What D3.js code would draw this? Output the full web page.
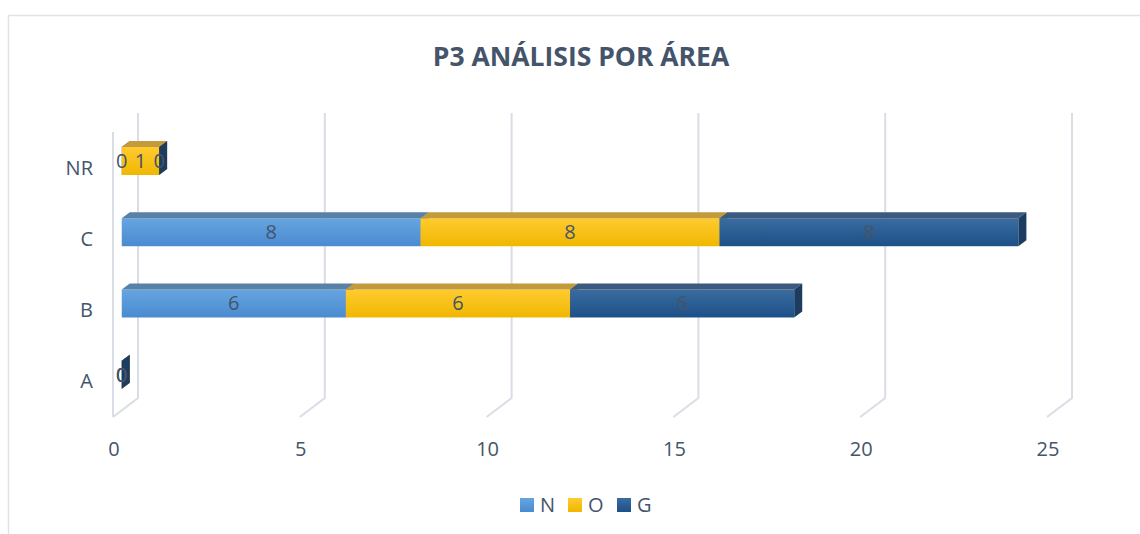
<!DOCTYPE html>
<html>
<head>
<meta charset="utf-8">
<script src="https://cdn.jsdelivr.net/npm/d3@7"></script>
<style>
  body { margin: 0; background: #fff; }
  svg { display: block; }
  text { font-family: "Open Sans", "Noto Sans", sans-serif; fill: #44546a; }
</style>
</head>
<body>
<div id="chart"></div>
<script>
const categories = ['A', 'B', 'C', 'NR'];
const seriesNames = ['N', 'O', 'G'];
const valuesN = [0, 6, 8, 0];
const valuesO = [0, 6, 8, 1];
const valuesG = [0, 6, 8, 0];
const xTicks = [0, 5, 10, 15, 20, 25];

const width = 1140, height = 534;
const depth = { dx: 25, dy: -19 };      // front -> back wall offset
const barDepth = [0.35, 0.67];          // bar sits in middle of the depth

const svg = d3.select('#chart').append('svg')
  .attr('width', width)
  .attr('height', height);

// chart border
svg.append('rect')
  .attr('x', 8.5).attr('y', 15.5)
  .attr('width', 1140).attr('height', 600)
  .attr('fill', 'none')
  .attr('stroke', '#dfe2e7')
  .attr('stroke-width', 1.5);

svg.append('text')
  .attr('x', 581).attr('y', 66)
  .attr('text-anchor', 'middle')
  .style('font-size', '26.5px')
  .style('font-weight', 700)
  .text('P3 ANÁLISIS POR ÁREA');

const x = d3.scaleLinear().domain([0, 25]).range([113, 1047]);
const y = d3.scaleBand().domain(categories).range([417, 132]).paddingInner(0).paddingOuter(0);
const barH = 28;

// gradients
const defs = svg.append('defs');
const grads = {
  N: ['#67a5e0', '#4a8ad0'],
  O: ['#ffcb30', '#f0b700'],
  G: ['#3a6c9f', '#1c5088']
};
Object.entries(grads).forEach(([k, c]) => {
  const g = defs.append('linearGradient').attr('id', 'g' + k)
    .attr('x1', 0).attr('y1', 0).attr('x2', 0).attr('y2', 1);
  g.append('stop').attr('offset', '0%').attr('stop-color', c[0]);
  g.append('stop').attr('offset', '100%').attr('stop-color', c[1]);
});
const topColor = { N: '#5981a8', O: '#c39a3c', G: '#3d5a7e' };
const sideColor = { N: '#3f6f9e', O: '#b58c1e', G: '#1c3c60' };

// gridlines (back wall + floor edge)
const grid = svg.append('g')
  .attr('fill', 'none')
  .attr('stroke', '#d9dde5')
  .attr('stroke-width', 2);
const yTop = y.range()[1], yBot = y.range()[0];
grid.selectAll('path.grid')
  .data(xTicks)
  .enter()
  .append('path')
  .attr('d', v => `M${x(v) + depth.dx},${yTop + depth.dy}V${yBot + depth.dy}L${x(v)},${yBot}`);
// side wall front edge
grid.append('path')
  .attr('d', `M${x(0)},${yTop}V${yBot}`);

// x axis labels
svg.append('g').selectAll('text')
  .data(xTicks)
  .enter()
  .append('text')
  .attr('x', d => x(d) + 1)
  .attr('y', 456)
  .attr('text-anchor', 'middle')
  .style('font-size', '20px')
  .text(d => d);

// category labels
svg.append('g').selectAll('text')
  .data(categories)
  .enter()
  .append('text')
  .attr('x', 93)
  .attr('y', d => y(d) + y.bandwidth() / 2 + 7)
  .attr('text-anchor', 'end')
  .style('font-size', '20px')
  .text(d => d);

// stacked data
const table = categories.map((c, i) => ({ cat: c, N: valuesN[i], O: valuesO[i], G: valuesG[i] }));
const stacked = d3.stack().keys(seriesNames)(table);

const f = barDepth[0], b = barDepth[1];
const bars = svg.append('g');
const labels = [];
table.forEach((row, i) => {
  stacked.forEach(layer => {
    const key = layer.key;
    const [v0, v1] = layer[i];
    const cy = y(row.cat) + y.bandwidth() / 2;
    const x0 = x(v0) + depth.dx * f, x1 = x(v1) + depth.dx * f;
    const yt = cy - barH / 2 + depth.dy * f, yb = yt + barH;
    const ddx = depth.dx * (b - f), ddy = depth.dy * (b - f);
    const g = bars.append('g');
    // front
    g.append('rect')
      .attr('x', x0).attr('y', yt)
      .attr('width', x1 - x0).attr('height', barH)
      .attr('fill', `url(#g${key})`);
    // top
    g.append('path')
      .attr('d', `M${x0},${yt}L${x0 + ddx},${yt + ddy}L${x1 + ddx},${yt + ddy}L${x1},${yt}Z`)
      .attr('fill', topColor[key]);
    // right side
    g.append('path')
      .attr('d', `M${x1},${yt}L${x1 + ddx},${yt + ddy}L${x1 + ddx},${yb + ddy}L${x1},${yb}Z`)
      .attr('fill', sideColor[key]);
    labels.push({ x: (x0 + x1) / 2, y: yt + barH / 2 + 7, v: row[key] });
  });
});

svg.append('g').selectAll('text')
  .data(labels)
  .enter()
  .append('text')
  .attr('x', d => d.x)
  .attr('y', d => d.y)
  .attr('text-anchor', 'middle')
  .style('font-size', '20px')
  .text(d => d.v);

// legend
const legendX = [520, 568, 617];
const legend = svg.append('g');
seriesNames.forEach((s, i) => {
  legend.append('rect')
    .attr('x', legendX[i]).attr('y', 498)
    .attr('width', 14).attr('height', 14)
    .attr('fill', `url(#g${s})`);
  legend.append('text')
    .attr('x', legendX[i] + 20).attr('y', 512)
    .style('font-size', '20px')
    .text(s);
});
</script>
</body>
</html>
